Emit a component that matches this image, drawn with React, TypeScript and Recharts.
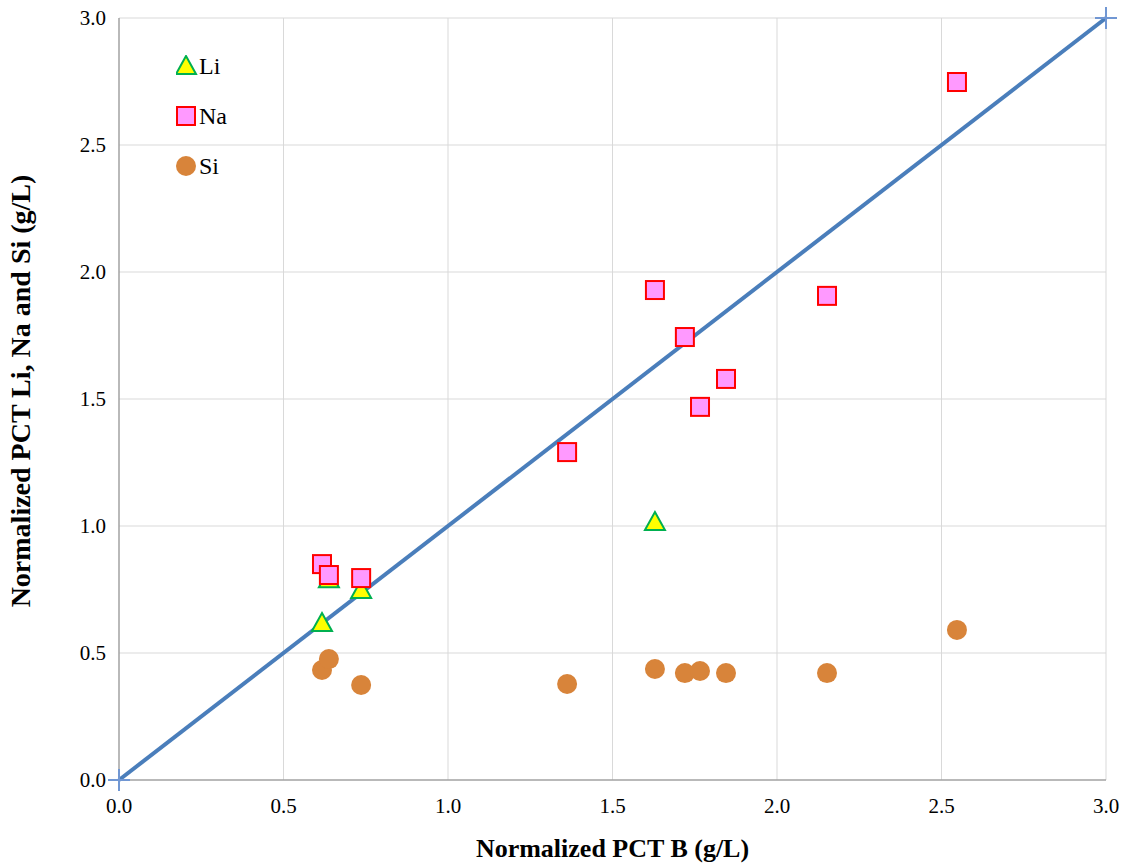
import { ScatterChart, Scatter, XAxis, YAxis, CartesianGrid, Legend, Label } from "recharts";

// PCT B on the x axis, shared by the Na and Si samples
const pctB = [0.617, 0.638, 0.736, 1.362, 1.629, 1.72, 1.766, 1.845, 2.152, 2.547];
const liB = [0.617, 0.638, 0.736, 1.629];
const liValues = [0.618, 0.79, 0.748, 1.016];
const naValues = [0.85, 0.807, 0.795, 1.291, 1.929, 1.744, 1.469, 1.579, 1.906, 2.748];
const siValues = [0.433, 0.476, 0.374, 0.378, 0.437, 0.421, 0.429, 0.421, 0.421, 0.591];
const lineEnds = [0, 3];
const ticks = [0, 0.5, 1, 1.5, 2, 2.5, 3];

const FONT = '"Liberation Serif", "Times New Roman", serif';

const liData = liB.map((x, i) => ({ x, y: liValues[i] }));
const naData = pctB.map((x, i) => ({ x, y: naValues[i] }));
const siData = pctB.map((x, i) => ({ x, y: siValues[i] }));
const lineData = lineEnds.map((v) => ({ x: v, y: v }));

const TRI = { fill: "#ffff00", stroke: "#00b050" };
const SQ = { fill: "#ff99ff", stroke: "#ff0000" };
const DOT = "#d8843a";

function Triangle({ cx, cy }: any) {
  const r = 10;
  return (
    <polygon
      points={`${cx},${cy - r} ${cx + r},${cy + r * 0.8} ${cx - r},${cy + r * 0.8}`}
      fill={TRI.fill}
      stroke={TRI.stroke}
      strokeWidth={2}
    />
  );
}

function Square({ cx, cy }: any) {
  return <rect x={cx - 9} y={cy - 9} width={18} height={18} fill={SQ.fill} stroke={SQ.stroke} strokeWidth={2} />;
}

function Dot({ cx, cy }: any) {
  return <circle cx={cx} cy={cy} r={10} fill={DOT} />;
}

function Plus({ cx, cy }: any) {
  return (
    <path
      d={`M${cx - 11},${cy}H${cx + 11}M${cx},${cy - 11}V${cy + 11}`}
      stroke="#7197d3"
      strokeWidth={2}
      fill="none"
    />
  );
}

function legendIcon(name: string) {
  if (name === "Li") return <Triangle cx={10} cy={11} />;
  if (name === "Na") return <Square cx={10} cy={11} />;
  return <Dot cx={10} cy={11} />;
}

function ChartLegend({ payload }: any) {
  const items = (payload || []).filter((p: any) => p.value !== "line");
  return (
    <div style={{ fontFamily: FONT, fontSize: 24, color: "#000" }}>
      {items.map((p: any) => (
        <div key={p.value} style={{ display: "flex", alignItems: "center", height: 50 }}>
          <svg width={22} height={22} style={{ marginRight: 1 }}>
            {legendIcon(p.value)}
          </svg>
          <span>{p.value}</span>
        </div>
      ))}
    </div>
  );
}

export default function App() {
  const tickStyle = { fontSize: 21, fill: "#000", fontFamily: FONT };
  return (
    <div style={{ position: "absolute", left: 0, top: 0, background: "#fff", fontFamily: FONT }}>
      <ScatterChart
        width={1128}
        height={866}
        margin={{ top: 18, right: 22, bottom: 0, left: 0 }}
        style={{ fontFamily: FONT }}
      >
        <CartesianGrid stroke="#d9d9d9" strokeWidth={1} horizontalValues={ticks} verticalValues={ticks} />
        <XAxis
          type="number"
          dataKey="x"
          domain={[0, 3]}
          ticks={ticks}
          tickFormatter={(v: number) => v.toFixed(1)}
          height={86}
          axisLine={{ stroke: "#868686" }}
          tickLine={false}
          tickSize={6}
          tickMargin={12}
          tick={tickStyle}
        >
          <Label
            value="Normalized PCT B (g/L)"
            position="insideBottom"
            offset={9}
            style={{ fontSize: 26, fontWeight: "bold", fontFamily: FONT, fill: "#000" }}
          />
        </XAxis>
        <YAxis
          type="number"
          dataKey="y"
          domain={[0, 3]}
          ticks={ticks}
          tickFormatter={(v: number) => v.toFixed(1)}
          width={119}
          axisLine={{ stroke: "#868686" }}
          tickLine={false}
          tickSize={6}
          tickMargin={7}
          tick={tickStyle}
        >
          <Label
            value="Normalized PCT Li, Na  and Si (g/L)"
            angle={-90}
            position="insideLeft"
            offset={20}
            dy={-8}
            style={{ fontSize: 28, fontWeight: "bold", fontFamily: FONT, fill: "#000", textAnchor: "middle", whiteSpace: "pre" }}
          />
        </YAxis>
        <Legend
          layout="vertical"
          align="center"
          verticalAlign="middle"
          content={<ChartLegend />}
          wrapperStyle={{ left: 176, top: 41, width: 80, height: 150 }}
        />
        <Scatter
          name="line"
          data={lineData}
          line={{ stroke: "#4a7ebb", strokeWidth: 4 }}
          shape={<Plus />}
          legendType="none"
          isAnimationActive={false}
        />
        <Scatter name="Li" data={liData} shape={<Triangle />} isAnimationActive={false} />
        <Scatter name="Na" data={naData} shape={<Square />} isAnimationActive={false} />
        <Scatter name="Si" data={siData} shape={<Dot />} isAnimationActive={false} />
      </ScatterChart>
    </div>
  );
}
